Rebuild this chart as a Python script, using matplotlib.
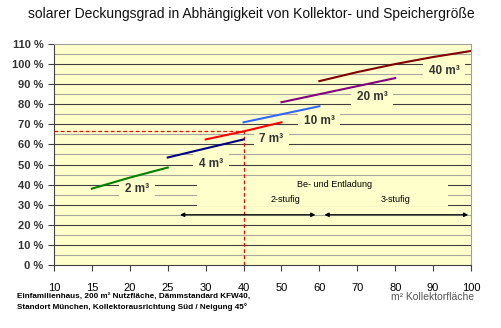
import matplotlib.pyplot as plt
import matplotlib.patches as mpatches
import numpy as np

# x-Achse: Kategorien (gleichabständig)
flaechen = [10, 15, 20, 25, 30, 40, 50, 60, 70, 80, 90, 100]

# Speichergröße -> (Kollektorfläche, Deckungsgrad %)
sp2_x = [15, 20, 25];            sp2_y = [38, 43.5, 48.5]
sp4_x = [25, 30, 40];            sp4_y = [53.5, 58, 62.5]
sp7_x = [30, 40, 50];            sp7_y = [62.5, 66.5, 71]
sp10_x = [40, 50, 60];           sp10_y = [71, 75, 79]
sp20_x = [50, 60, 70, 80];       sp20_y = [81, 85, 89, 93]
sp40_x = [60, 70, 80, 90, 100];  sp40_y = [91.5, 96, 100, 103.5, 106.5]

serien = [('2 m³', sp2_x, sp2_y, '#008000'),
          ('4 m³', sp4_x, sp4_y, '#000080'),
          ('7 m³', sp7_x, sp7_y, '#ff0000'),
          ('10 m³', sp10_x, sp10_y, '#3366ff'),
          ('20 m³', sp20_x, sp20_y, '#800080'),
          ('40 m³', sp40_x, sp40_y, '#800000')]

ref_x = 40; ref_y = 66.5   # Beispielpunkt (rot gestrichelt)
grenze_x = 60              # Grenze 2-stufig / 3-stufig

bg = '#ffffcc'
fam = ['Liberation Sans', 'DejaVu Sans']
plt.rcParams['font.family'] = fam

def idx(v):
    return flaechen.index(v)

fig = plt.figure(figsize=(5.02, 3.28), dpi=100)
ax = fig.add_axes([0.1076, 0.192, 0.8307, 0.674])
ax.set_facecolor(bg)
ax.set_xlim(0, len(flaechen) - 1)
ax.set_ylim(0, 110)

# Gitterlinien
for g in np.arange(5, 110, 5):
    major = (g % 10 == 0)
    ax.axhline(g, color='#404040' if major else '#a8a8a0', lw=0.8, zorder=1)

# Linien
for name, xs, ys, c in serien:
    ax.plot([idx(v) for v in xs], ys, color=c, lw=1.5, zorder=4)

# Beschriftungen der Speichergrößen
lab_pos = {'2 m³': (2.19, 38), '4 m³': (4.14, 50.5), '7 m³': (5.73, 62.5),
           '10 m³': (6.99, 71.5), '20 m³': (8.39, 83.5), '40 m³': (10.29, 96.5)}
for name, xs, ys, c in serien:
    px, py = lab_pos[name]
    ax.text(px, py, name, ha='center', va='center', fontsize=8.5, fontweight='bold',
            color='#333333', zorder=3,
            bbox=dict(facecolor=bg, edgecolor='none', pad=4))

# gestrichelte Hilfslinien
ax.plot([0, idx(ref_x)], [ref_y, ref_y], color='#ff0000', ls=(0, (3, 2)), lw=0.9, zorder=3)
ax.plot([idx(ref_x), idx(ref_x)], [0, ref_y], color='#ff0000', ls=(0, (3, 2)), lw=0.9, zorder=3)

# Be- und Entladung
ax.add_patch(mpatches.Rectangle((3.77, 29.5), 6.63, 11.2, facecolor=bg, edgecolor='none', zorder=2))
ax.text(7.4, 40.3, 'Be- und Entladung', ha='center', va='center', fontsize=6.5, zorder=3)
ax.text(6.1, 32.8, '2-stufig', ha='center', va='center', fontsize=6.5, zorder=3)
ax.text(9.0, 32.8, '3-stufig', ha='center', va='center', fontsize=6.5, zorder=3)
g = idx(grenze_x)
ax.annotate('', xy=(3.25, 25), xytext=(g - 0.03, 25),
            arrowprops=dict(arrowstyle='<|-|>', color='black', lw=0.9, mutation_scale=6), zorder=5)
ax.annotate('', xy=(g + 0.06, 25), xytext=(11, 25),
            arrowprops=dict(arrowstyle='<|-|>', color='black', lw=0.9, mutation_scale=6), zorder=5)

# Achsen
ax.set_xticks(range(len(flaechen)))
ax.set_xticklabels([str(v) for v in flaechen], fontsize=8)
ax.set_yticks(range(0, 111, 10))
ax.set_yticklabels([f'{v} %' for v in range(0, 111, 10)], fontsize=8, fontweight='bold', color='#333333')
ax.tick_params(axis='both', direction='out', length=4, width=0.8, color='#404040')
ax.tick_params(axis='x', pad=9)
for s in ['top', 'right']:
    ax.spines[s].set_color('#a0a0a0')
for s in ['left', 'bottom']:
    ax.spines[s].set_color('#404040')

fig.text(0.5, 0.958, 'solarer Deckungsgrad in Abhängigkeit von Kollektor- und Speichergröße',
         ha='center', va='center', fontsize=10, color='#111111')
fig.text(0.034, 0.079, 'Einfamilienhaus, 200 m² Nutzfläche, Dämmstandard KFW40,\n'
         'Standort München, Kollektorausrichtung Süd / Neigung 45°',
         ha='left', va='center', fontsize=5.9, fontweight='bold', linespacing=1.45)
fig.text(0.945, 0.094, 'm² Kollektorfläche', ha='right', va='center',
         fontsize=7.5, color='#555555')

fig.savefig('out.png', dpi=100)
